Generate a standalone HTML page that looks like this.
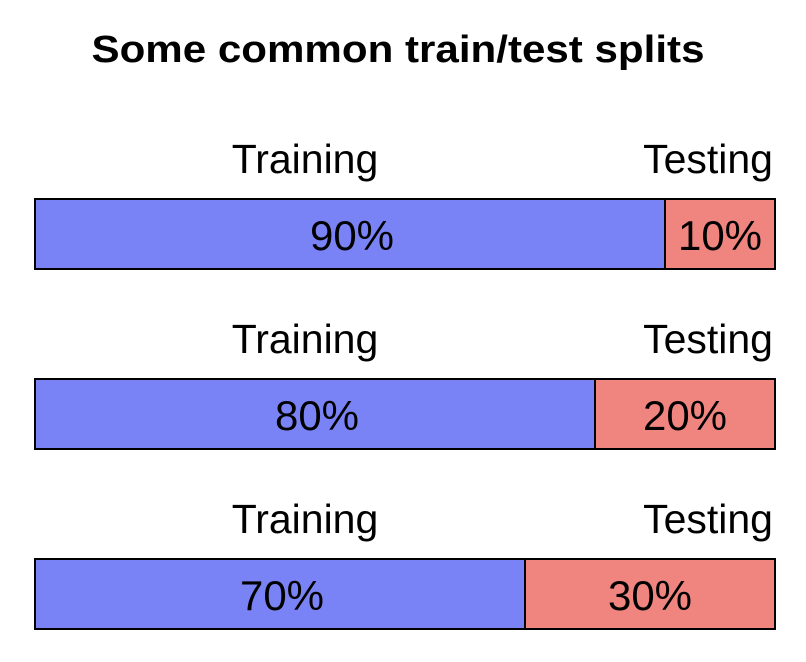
<!DOCTYPE html>
<html><head><meta charset="utf-8"><style>html,body{margin:0;padding:0;background:#fff}svg{display:block}</style></head>
<body>
<svg id="chart" width="806" height="662" viewBox="0 0 806 662" xmlns="http://www.w3.org/2000/svg" font-family="'Liberation Sans', sans-serif">
<text x="398" y="62" text-anchor="middle" font-size="38" font-weight="bold" textLength="613" lengthAdjust="spacingAndGlyphs">Some common train/test splits</text>
<g id="bars"></g>
</svg>
<script>
const trainPct = [90, 80, 70];
const testPct = [10, 20, 30];
const trainLabels = ["Training", "Training", "Training"];
const testLabels = ["Testing", "Testing", "Testing"];

const NS = "http://www.w3.org/2000/svg";
const left = 35, right = 775, barH = 70;
function xSplit(train) { return left + 7 * train; }
function rowTop(i) { return 199 + i * 180; }
const g = document.getElementById('bars');
function mk(tag, attrs, parent) {
  const e = document.createElementNS(NS, tag);
  for (const k in attrs) e.setAttribute(k, attrs[k]);
  parent.appendChild(e);
  return e;
}
trainPct.forEach((tr, i) => {
  const te = testPct[i];
  const y = rowTop(i);
  const sx = xSplit(tr);
  const grp = mk('g', {}, g);
  
  
  const l1 = mk('text', {x: 305, y: y - 26, 'text-anchor': 'middle', 'font-size': 41}, grp);
  l1.textContent = trainLabels[i];
  
  
  const l2 = mk('text', {x: 773, y: y - 26, 'text-anchor': 'end', 'font-size': 41}, grp);
  l2.textContent = testLabels[i];
  
  
  const r1 = mk('rect', {x: left, y: y, width: sx - left, height: barH, fill: '#7a83f6', stroke: '#000', 'stroke-width': 2}, grp);
  
  
  const r2 = mk('rect', {x: sx, y: y, width: right - sx, height: barH, fill: '#f08580', stroke: '#000', 'stroke-width': 2}, grp);
  
  
  const t1 = mk('text', {x: (left + sx) / 2 + 2, y: y + 51, 'text-anchor': 'middle', 'font-size': 42}, grp);
  t1.textContent = tr + '%';
  
  
  const t2 = mk('text', {x: (sx + right) / 2, y: y + 51, 'text-anchor': 'middle', 'font-size': 42}, grp);
  t2.textContent = te + '%';
  
  
});
</script>
</body></html>
